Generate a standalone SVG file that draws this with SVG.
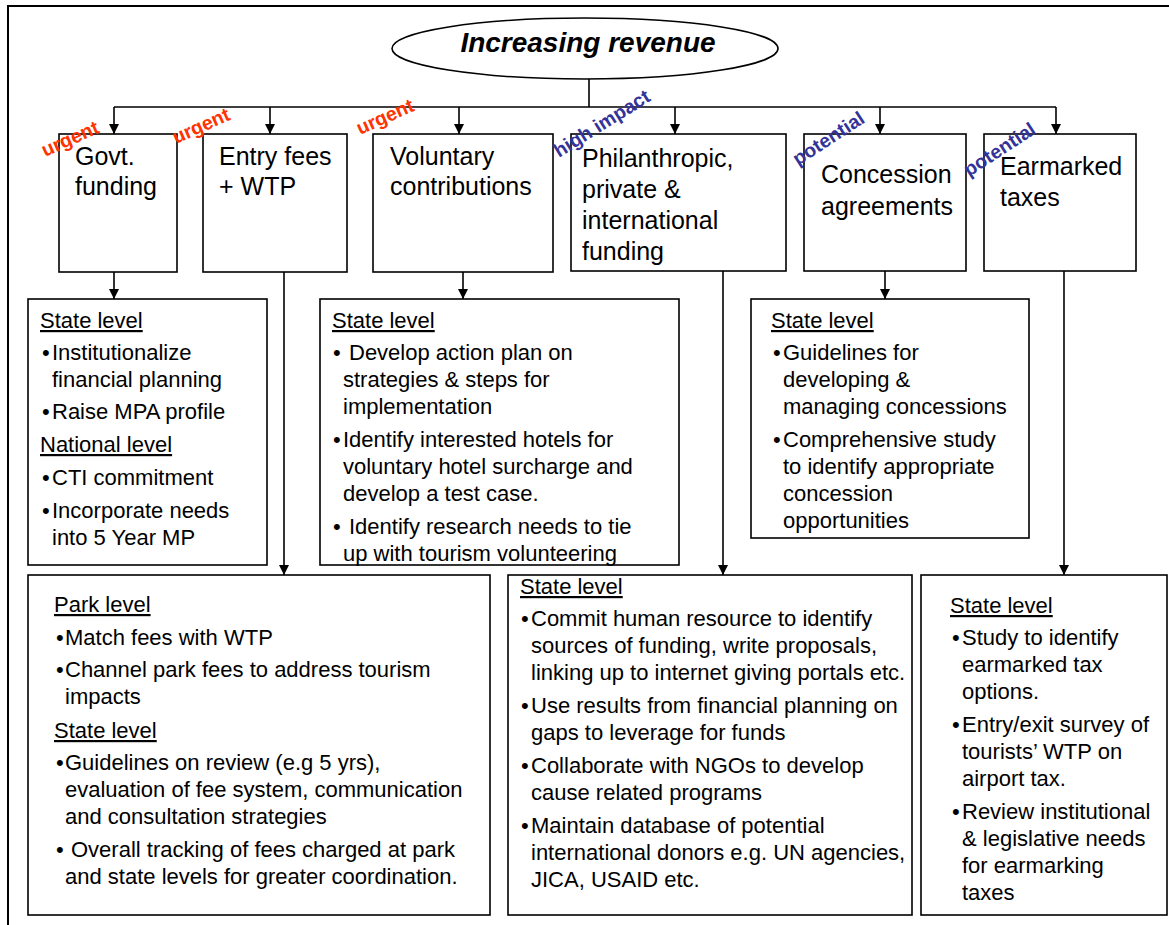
<svg xmlns="http://www.w3.org/2000/svg" width="1169" height="925" viewBox="0 0 1169 925">
<style>
text{font-family:"Liberation Sans",Arial,Helvetica,sans-serif;fill:#000}
.box{fill:#fff;stroke:#000;stroke-width:1.6}
.frame{fill:none;stroke:#000;stroke-width:2}
.conn{fill:none;stroke:#000;stroke-width:1.6}
.hd{font-size:25px}
.t{font-size:22px}
.u{font-size:22px;text-decoration:underline}
.red{font-size:19.5px;font-weight:bold;fill:#ff3300}
.blue{font-size:19.5px;font-weight:bold;fill:#333399}
</style>
<defs>
<marker id="ah" viewBox="0 0 10 10" refX="10" refY="5" markerWidth="10" markerHeight="10" orient="auto" markerUnits="userSpaceOnUse"><path d="M0,0 L10,5 L0,10 z" fill="#000"/></marker>
</defs>
<rect width="1169" height="925" fill="#fff"/>
<path class="frame" d="M8,925 V6 H1169"/>

<g id="connectors">
<path class="conn" d="M589,79 V107 M114,107 H1056"/>
<path class="conn" d="M114,107 V134" marker-end="url(#ah)"/>
<path class="conn" d="M270,107 V134" marker-end="url(#ah)"/>
<path class="conn" d="M459,107 V134" marker-end="url(#ah)"/>
<path class="conn" d="M675,107 V134" marker-end="url(#ah)"/>
<path class="conn" d="M880,107 V134" marker-end="url(#ah)"/>
<path class="conn" d="M1056,107 V134" marker-end="url(#ah)"/>
<path class="conn" d="M114,272 V299" marker-end="url(#ah)"/>
<path class="conn" d="M284,272 V575" marker-end="url(#ah)"/>
<path class="conn" d="M463,272 V299" marker-end="url(#ah)"/>
<path class="conn" d="M723,271 V575" marker-end="url(#ah)"/>
<path class="conn" d="M885,271 V299" marker-end="url(#ah)"/>
<path class="conn" d="M1064,271 V575" marker-end="url(#ah)"/>
</g>

<g id="root">
<ellipse cx="585" cy="48.5" rx="193" ry="30.5" fill="#fff" stroke="#000" stroke-width="1.6"/>
<text x="588" y="52" text-anchor="middle" font-size="28" font-weight="bold" font-style="italic">Increasing revenue</text>
</g>

<g id="govt">
<rect class="box" x="59" y="134" width="118" height="138"/>
<text class="hd" x="75" y="165">Govt.</text>
<text class="hd" x="75" y="195">funding</text>
</g>
<g id="entry">
<rect class="box" x="203" y="134" width="144" height="138"/>
<text class="hd" x="219" y="165">Entry fees</text>
<text class="hd" x="219" y="195">+ WTP</text>
</g>
<g id="voluntary">
<rect class="box" x="373" y="134" width="180" height="138"/>
<text class="hd" x="390" y="165">Voluntary</text>
<text class="hd" x="390" y="195">contributions</text>
</g>
<g id="philanthropic">
<rect class="box" x="571" y="134" width="215" height="137"/>
<text class="hd" x="582" y="167">Philanthropic,</text>
<text class="hd" x="582" y="198">private &amp;</text>
<text class="hd" x="582" y="229">international</text>
<text class="hd" x="582" y="260">funding</text>
</g>
<g id="concession">
<rect class="box" x="804" y="134" width="162" height="137"/>
<text class="hd" x="821" y="183">Concession</text>
<text class="hd" x="821" y="215">agreements</text>
</g>
<g id="earmarked">
<rect class="box" x="984" y="134" width="152" height="137"/>
<text class="hd" x="1000" y="175">Earmarked</text>
<text class="hd" x="1000" y="206">taxes</text>
</g>

<g id="tags">
<text class="red" x="45" y="157" transform="rotate(-24 45 157)">urgent</text>
<text class="red" x="176" y="144" transform="rotate(-24 176 144)">urgent</text>
<text class="red" x="360" y="135" transform="rotate(-24 360 135)">urgent</text>
<text class="blue" x="559" y="158" transform="rotate(-32 559 158)">high impact</text>
<text class="blue" x="798" y="166" transform="rotate(-33 798 166)">potential</text>
<text class="blue" x="969" y="177" transform="rotate(-33 969 177)">potential</text>
</g>

<g id="govt-actions">
<rect class="box" x="28" y="299" width="239" height="266"/>
<text class="u" x="40" y="328">State level</text>
<text class="t" x="42" y="360">•</text><text class="t" x="52" y="360">Institutionalize</text>
<text class="t" x="52" y="387">financial planning</text>
<text class="t" x="42" y="419">•</text><text class="t" x="52" y="419">Raise MPA profile</text>
<text class="u" x="40" y="452">National level</text>
<text class="t" x="42" y="485">•</text><text class="t" x="52" y="485">CTI commitment</text>
<text class="t" x="42" y="518">•</text><text class="t" x="52" y="518">Incorporate needs</text>
<text class="t" x="52" y="545">into 5 Year MP</text>
</g>

<g id="voluntary-actions">
<rect class="box" x="320" y="299" width="359" height="266"/>
<text class="u" x="332" y="328">State level</text>
<text class="t" x="333" y="360">•</text><text class="t" x="349" y="360">Develop action plan on</text>
<text class="t" x="343" y="387">strategies &amp; steps for</text>
<text class="t" x="343" y="414">implementation</text>
<text class="t" x="333" y="447">•</text><text class="t" x="343" y="447">Identify interested hotels for</text>
<text class="t" x="343" y="474">voluntary hotel surcharge and</text>
<text class="t" x="343" y="501">develop a test case.</text>
<text class="t" x="333" y="534">•</text><text class="t" x="349" y="534">Identify research needs to tie</text>
<text class="t" x="343" y="561">up with tourism volunteering</text>
</g>

<g id="concession-actions">
<rect class="box" x="751" y="299" width="278" height="239"/>
<text class="u" x="771" y="328">State level</text>
<text class="t" x="773" y="360">•</text><text class="t" x="783" y="360">Guidelines for</text>
<text class="t" x="783" y="387">developing &amp;</text>
<text class="t" x="783" y="414">managing concessions</text>
<text class="t" x="773" y="447">•</text><text class="t" x="783" y="447">Comprehensive study</text>
<text class="t" x="783" y="474">to identify appropriate</text>
<text class="t" x="783" y="501">concession</text>
<text class="t" x="783" y="528">opportunities</text>
</g>

<g id="entry-actions">
<rect class="box" x="28" y="575" width="462" height="340"/>
<text class="u" x="54" y="612">Park level</text>
<text class="t" x="56" y="645">•</text><text class="t" x="65" y="645">Match fees with WTP</text>
<text class="t" x="56" y="677">•</text><text class="t" x="65" y="677">Channel park fees to address tourism</text>
<text class="t" x="65" y="704">impacts</text>
<text class="u" x="54" y="738">State level</text>
<text class="t" x="56" y="770">•</text><text class="t" x="65" y="770">Guidelines on review (e.g 5 yrs),</text>
<text class="t" x="65" y="797">evaluation of fee system, communication</text>
<text class="t" x="65" y="824">and consultation strategies</text>
<text class="t" x="56" y="857">•</text><text class="t" x="71" y="857">Overall tracking of fees charged at park</text>
<text class="t" x="65" y="884">and state levels for greater coordination.</text>
</g>

<g id="philanthropic-actions">
<rect class="box" x="508" y="575" width="404" height="340"/>
<text class="u" x="520" y="594">State level</text>
<text class="t" x="521" y="626">•</text><text class="t" x="531" y="626">Commit human resource to identify</text>
<text class="t" x="531" y="653">sources of funding, write proposals,</text>
<text class="t" x="531" y="680">linking up to internet giving portals etc.</text>
<text class="t" x="521" y="713">•</text><text class="t" x="531" y="713">Use results from financial planning on</text>
<text class="t" x="531" y="740">gaps to leverage for funds</text>
<text class="t" x="521" y="773">•</text><text class="t" x="531" y="773">Collaborate with NGOs to develop</text>
<text class="t" x="531" y="800">cause related programs</text>
<text class="t" x="521" y="833">•</text><text class="t" x="531" y="833">Maintain database of potential</text>
<text class="t" x="531" y="860">international donors e.g. UN agencies,</text>
<text class="t" x="531" y="887">JICA, USAID etc.</text>
</g>

<g id="earmarked-actions">
<rect class="box" x="921" y="575" width="246" height="340"/>
<text class="u" x="950" y="613">State level</text>
<text class="t" x="952" y="645">•</text><text class="t" x="962" y="645">Study to identify</text>
<text class="t" x="962" y="672">earmarked tax</text>
<text class="t" x="962" y="699">options.</text>
<text class="t" x="952" y="732">•</text><text class="t" x="962" y="732">Entry/exit survey of</text>
<text class="t" x="962" y="759">tourists’ WTP on</text>
<text class="t" x="962" y="786">airport tax.</text>
<text class="t" x="952" y="819">•</text><text class="t" x="962" y="819">Review institutional</text>
<text class="t" x="962" y="846">&amp; legislative needs</text>
<text class="t" x="962" y="873">for earmarking</text>
<text class="t" x="962" y="900">taxes</text>
</g>
</svg>
